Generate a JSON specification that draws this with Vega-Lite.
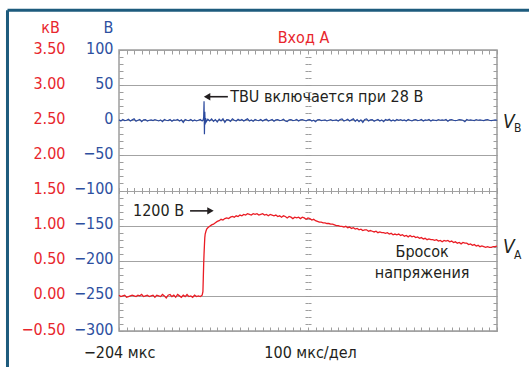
{
  "$schema": "https://vega.github.io/schema/vega-lite/v6.json",
  "width": 378,
  "height": 281,
  "autosize": {"type": "none"},
  "padding": {"left": 119, "top": 50, "right": 32, "bottom": 36},
  "background": "white",
  "config": {
    "font": "DejaVu Sans Condensed",
    "view": {"stroke": "#9d9d9d", "strokeWidth": 1.5},
    "axis": {"tickColor": "#9d9d9d", "tickWidth": 1, "titleFontWeight": "normal", "labelFontSize": 16, "titleFontSize": 16, "domain": false}
  },
  "datasets": {
    "blue": [
      {"t":-204,"v":0.5},{"t":-199,"v":-1},{"t":-194,"v":1},{"t":-189,"v":-0.5},{"t":-184,"v":0},{"t":-179,"v":1.5},{"t":-174,"v":-1},{"t":-169,"v":0.5},{"t":-164,"v":2},{"t":-159,"v":-1.5},
      {"t":-154,"v":0},{"t":-149,"v":1},{"t":-144,"v":-2},{"t":-139,"v":0.5},{"t":-134,"v":1},{"t":-129,"v":-1},{"t":-124,"v":0},{"t":-119,"v":0.5},{"t":-114,"v":-0.5},{"t":-109,"v":1},
      {"t":-104,"v":0},{"t":-99,"v":-1},{"t":-94,"v":0.5},{"t":-89,"v":-2},{"t":-84,"v":1},{"t":-79,"v":0},{"t":-74,"v":-0.5},{"t":-69,"v":1},{"t":-64,"v":-1.5},{"t":-59,"v":0.5},
      {"t":-54,"v":0},{"t":-49,"v":1},{"t":-44,"v":-1},{"t":-39,"v":0.5},{"t":-34,"v":-3},{"t":-29,"v":1},{"t":-24,"v":0},{"t":-19,"v":-0.5},{"t":-14,"v":1},{"t":-9,"v":-1},
      {"t":-4,"v":0.5},{"t":1,"v":-1},{"t":6,"v":0},{"t":11,"v":1},{"t":16,"v":-1},{"t":19,"v":1},{"t":20,"v":5},{"t":21,"v":27},{"t":22,"v":-20},{"t":23,"v":12},
      {"t":24,"v":-6},{"t":25,"v":3},{"t":27,"v":-2},{"t":31,"v":1.5},{"t":36,"v":-1},{"t":41,"v":2},{"t":46,"v":-1.5},{"t":51,"v":1},{"t":56,"v":-2.5},{"t":61,"v":1.5},
      {"t":66,"v":-1},{"t":71,"v":2},{"t":76,"v":-3},{"t":81,"v":1},{"t":86,"v":0.5},{"t":91,"v":-1.5},{"t":96,"v":2},{"t":101,"v":0},{"t":106,"v":-1},{"t":111,"v":1.5},
      {"t":116,"v":-0.5},{"t":121,"v":1},{"t":126,"v":-1},{"t":131,"v":0.5},{"t":136,"v":2},{"t":141,"v":-1},{"t":146,"v":0.5},{"t":151,"v":-1.5},{"t":156,"v":1},{"t":161,"v":0},
      {"t":166,"v":-0.5},{"t":171,"v":1},{"t":176,"v":-1},{"t":181,"v":0.5},{"t":186,"v":1.5},{"t":191,"v":-1},{"t":196,"v":0},{"t":201,"v":1},{"t":206,"v":-1.5},{"t":211,"v":0.5},
      {"t":216,"v":1},{"t":221,"v":-0.5},{"t":226,"v":0},{"t":231,"v":1.5},{"t":236,"v":-1},{"t":241,"v":-2},{"t":246,"v":0.5},{"t":251,"v":1},{"t":256,"v":-0.5},{"t":261,"v":0},
      {"t":266,"v":1},{"t":271,"v":-1},{"t":276,"v":0.5},{"t":281,"v":1},{"t":286,"v":0},{"t":291,"v":-1},{"t":296,"v":0.5},{"t":301,"v":1},{"t":306,"v":-1},{"t":311,"v":0},
      {"t":316,"v":-2},{"t":321,"v":0.5},{"t":326,"v":1},{"t":331,"v":-0.5},{"t":336,"v":0},{"t":341,"v":0.5},{"t":346,"v":-1},{"t":351,"v":0},{"t":356,"v":1},{"t":361,"v":-0.5},
      {"t":366,"v":0},{"t":371,"v":0.5},{"t":376,"v":-1},{"t":381,"v":1},{"t":386,"v":2},{"t":391,"v":-1},{"t":396,"v":0},{"t":401,"v":1.5},{"t":406,"v":-1},{"t":411,"v":0.5},
      {"t":416,"v":2},{"t":421,"v":-1.5},{"t":426,"v":1},{"t":431,"v":-2},{"t":436,"v":0.5},{"t":441,"v":-3},{"t":446,"v":1},{"t":451,"v":2},{"t":456,"v":-1},{"t":461,"v":0.5},
      {"t":466,"v":1},{"t":471,"v":-1.5},{"t":476,"v":0},{"t":481,"v":1},{"t":486,"v":-1},{"t":491,"v":0.5},{"t":496,"v":-2},{"t":501,"v":1},{"t":506,"v":0},{"t":511,"v":1.5},
      {"t":516,"v":-1},{"t":521,"v":0.5},{"t":526,"v":-1},{"t":531,"v":1},{"t":536,"v":0},{"t":541,"v":1},{"t":546,"v":-0.5},{"t":551,"v":0.5},{"t":556,"v":-1},{"t":561,"v":1},
      {"t":566,"v":0},{"t":571,"v":-1},{"t":576,"v":0.5},{"t":581,"v":1},{"t":586,"v":-0.5},{"t":591,"v":0},{"t":596,"v":1},{"t":601,"v":-1},{"t":606,"v":0.5},{"t":611,"v":0},
      {"t":616,"v":1},{"t":621,"v":-1},{"t":626,"v":0.5},{"t":631,"v":0},{"t":636,"v":-0.5},{"t":641,"v":1},{"t":646,"v":0},{"t":651,"v":0.5},{"t":656,"v":0},{"t":661,"v":1},
      {"t":666,"v":-1.5},{"t":671,"v":0.5},{"t":676,"v":1},{"t":681,"v":0},{"t":686,"v":-0.5},{"t":691,"v":0},{"t":696,"v":1},{"t":701,"v":0.5},{"t":706,"v":0},{"t":711,"v":-2},
      {"t":716,"v":1},{"t":721,"v":0},{"t":726,"v":0.5},{"t":731,"v":0},{"t":736,"v":-0.5},{"t":741,"v":1},{"t":746,"v":0},{"t":751,"v":0.5},{"t":756,"v":0},{"t":761,"v":-0.5},
      {"t":766,"v":0.5},{"t":771,"v":1},{"t":776,"v":0},{"t":781,"v":-0.5},{"t":786,"v":0},{"t":791,"v":0.5},{"t":796,"v":0}
    ],
    "red": [
      {"t":-204,"kv":0.01},{"t":-199,"kv":-0.01},{"t":-194,"kv":0.0},{"t":-189,"kv":0.01},{"t":-184,"kv":-0.02},{"t":-179,"kv":-0.01},{"t":-174,"kv":0.0},{"t":-169,"kv":0.01},{"t":-164,"kv":0.0},{"t":-159,"kv":-0.01},
      {"t":-154,"kv":0.01},{"t":-149,"kv":0.0},{"t":-144,"kv":0.02},{"t":-139,"kv":-0.01},{"t":-134,"kv":0.0},{"t":-129,"kv":0.01},{"t":-124,"kv":-0.01},{"t":-119,"kv":0.0},{"t":-114,"kv":0.01},{"t":-109,"kv":-0.02},
      {"t":-104,"kv":0.01},{"t":-99,"kv":0.0},{"t":-94,"kv":-0.01},{"t":-89,"kv":0.02},{"t":-84,"kv":0.0},{"t":-79,"kv":-0.03},{"t":-74,"kv":0.01},{"t":-69,"kv":0.02},{"t":-64,"kv":-0.01},{"t":-59,"kv":0.01},
      {"t":-54,"kv":-0.02},{"t":-49,"kv":0.02},{"t":-44,"kv":0.0},{"t":-39,"kv":-0.02},{"t":-34,"kv":0.01},{"t":-29,"kv":-0.01},{"t":-24,"kv":0.02},{"t":-19,"kv":-0.01},{"t":-14,"kv":0.0},{"t":-9,"kv":-0.02},
      {"t":-4,"kv":0.01},{"t":1,"kv":-0.01},{"t":6,"kv":0.0},{"t":11,"kv":-0.01},{"t":16,"kv":0.01},
      {"t":18,"kv":0.06},{"t":19,"kv":0.25},{"t":20,"kv":0.45},{"t":21,"kv":0.6},{"t":22,"kv":0.72},{"t":23,"kv":0.83},{"t":24,"kv":0.88},{"t":26,"kv":0.92},{"t":28,"kv":0.95},{"t":31,"kv":0.97},{"t":36,"kv":0.99},
      {"t":41,"kv":1.01},{"t":46,"kv":1.02},{"t":51,"kv":1.04},{"t":56,"kv":1.06},{"t":61,"kv":1.07},{"t":66,"kv":1.09},{"t":71,"kv":1.08},{"t":76,"kv":1.10},{"t":81,"kv":1.11},{"t":86,"kv":1.10},
      {"t":91,"kv":1.12},{"t":96,"kv":1.13},{"t":101,"kv":1.12},{"t":106,"kv":1.14},{"t":111,"kv":1.13},{"t":116,"kv":1.15},{"t":121,"kv":1.14},{"t":126,"kv":1.16},{"t":131,"kv":1.15},{"t":136,"kv":1.17},
      {"t":141,"kv":1.16},{"t":146,"kv":1.15},{"t":151,"kv":1.17},{"t":156,"kv":1.16},{"t":161,"kv":1.17},{"t":166,"kv":1.15},{"t":171,"kv":1.16},{"t":176,"kv":1.17},{"t":181,"kv":1.15},{"t":186,"kv":1.16},
      {"t":191,"kv":1.14},{"t":196,"kv":1.16},{"t":201,"kv":1.15},{"t":206,"kv":1.14},{"t":211,"kv":1.15},{"t":216,"kv":1.13},{"t":221,"kv":1.14},{"t":226,"kv":1.12},{"t":231,"kv":1.14},{"t":236,"kv":1.13},
      {"t":241,"kv":1.11},{"t":246,"kv":1.13},{"t":251,"kv":1.12},{"t":256,"kv":1.10},{"t":261,"kv":1.12},{"t":266,"kv":1.11},{"t":271,"kv":1.12},{"t":276,"kv":1.10},{"t":281,"kv":1.12},{"t":286,"kv":1.11},
      {"t":291,"kv":1.09},{"t":296,"kv":1.11},{"t":301,"kv":1.10},{"t":306,"kv":1.08},{"t":311,"kv":1.09},{"t":316,"kv":1.07},{"t":321,"kv":1.06},{"t":326,"kv":1.05},{"t":331,"kv":1.05},{"t":336,"kv":1.04},
      {"t":341,"kv":1.04},{"t":346,"kv":1.03},{"t":351,"kv":1.03},{"t":356,"kv":1.02},{"t":361,"kv":1.02},{"t":366,"kv":1.01},{"t":371,"kv":1.00},{"t":376,"kv":1.00},{"t":381,"kv":0.99},{"t":386,"kv":0.99},
      {"t":391,"kv":0.98},{"t":396,"kv":0.99},{"t":401,"kv":0.97},{"t":406,"kv":0.98},{"t":411,"kv":0.96},{"t":416,"kv":0.97},{"t":421,"kv":0.95},{"t":426,"kv":0.96},{"t":431,"kv":0.94},{"t":436,"kv":0.95},
      {"t":441,"kv":0.93},{"t":446,"kv":0.94},{"t":451,"kv":0.94},{"t":456,"kv":0.92},{"t":461,"kv":0.93},{"t":466,"kv":0.92},{"t":471,"kv":0.91},{"t":476,"kv":0.92},{"t":481,"kv":0.90},{"t":486,"kv":0.91},
      {"t":491,"kv":0.90},{"t":496,"kv":0.90},{"t":501,"kv":0.89},{"t":506,"kv":0.90},{"t":511,"kv":0.88},{"t":516,"kv":0.89},{"t":521,"kv":0.87},{"t":526,"kv":0.88},{"t":531,"kv":0.87},{"t":536,"kv":0.88},
      {"t":541,"kv":0.86},{"t":546,"kv":0.87},{"t":551,"kv":0.85},{"t":556,"kv":0.86},{"t":561,"kv":0.84},{"t":566,"kv":0.86},{"t":571,"kv":0.84},{"t":576,"kv":0.85},{"t":581,"kv":0.83},{"t":586,"kv":0.84},
      {"t":591,"kv":0.82},{"t":596,"kv":0.83},{"t":601,"kv":0.81},{"t":606,"kv":0.82},{"t":611,"kv":0.80},{"t":616,"kv":0.81},{"t":621,"kv":0.80},{"t":626,"kv":0.80},{"t":631,"kv":0.79},{"t":636,"kv":0.80},
      {"t":641,"kv":0.78},{"t":646,"kv":0.79},{"t":651,"kv":0.77},{"t":656,"kv":0.79},{"t":661,"kv":0.78},{"t":666,"kv":0.79},{"t":671,"kv":0.77},{"t":676,"kv":0.78},{"t":681,"kv":0.76},{"t":686,"kv":0.77},
      {"t":691,"kv":0.75},{"t":696,"kv":0.76},{"t":701,"kv":0.74},{"t":706,"kv":0.76},{"t":711,"kv":0.75},{"t":716,"kv":0.75},{"t":721,"kv":0.73},{"t":726,"kv":0.74},{"t":731,"kv":0.72},{"t":736,"kv":0.73},
      {"t":741,"kv":0.71},{"t":746,"kv":0.72},{"t":751,"kv":0.70},{"t":756,"kv":0.71},{"t":761,"kv":0.70},{"t":766,"kv":0.69},{"t":771,"kv":0.70},{"t":776,"kv":0.69},{"t":781,"kv":0.69},{"t":786,"kv":0.70},
      {"t":791,"kv":0.70},{"t":796,"kv":0.71}
    ],
    "notes": [
      {"t":90,"v":33.5,"text":"TBU включается при 28 В","group":"left"},
      {"t":-167,"v":-129,"text":"1200 В","group":"left"},
      {"t":598,"v":-187.5,"text":"Бросок","group":"center"},
      {"t":598,"v":-217.5,"text":"напряжения","group":"center"}
    ],
    "arrows": [
      {"t1":30,"t2":84,"v":33.5,"head":"left","th":29},
      {"t1":-16,"t2":38,"v":-129,"head":"right","th":38}
    ],
    "vnames": [
      {"t":812,"v":-3,"main":"V","sub":"B","vs":-11},
      {"t":812,"v":-180,"main":"V","sub":"A","vs":-192}
    ]
  },
  "resolve": {"scale": {"x": "independent", "y": "independent"}},
  "layer": [
    {
      "data": {"name": "blue"},
      "mark": {"type": "line", "color": "#2c4a9e", "strokeWidth": 1.2, "interpolate": "linear"},
      "encoding": {
        "x": {"field": "t", "type": "quantitative", "scale": {"domain": [-204, 796], "nice": false, "zero": false},
          "axis": {"orient": "bottom", "values": [-204], "ticks": false, "grid": false,
            "labelExpr": "datum.value == -204 ? '−204 мкс' : ''", "labelColor": "#231f20", "labelAlign": "center", "labelDx": -7, "labelPadding": 21, "labelBaseline": "middle",
            "title": "100 мкс/дел", "titleColor": "#231f20", "titleX": 191, "titleY": 21, "titleBaseline": "middle", "titleAlign": "center"}},
        "y": {"field": "v", "type": "quantitative", "scale": {"domain": [-300, 100], "nice": false, "zero": false},
          "axis": {"orient": "left", "values": [-300, -250, -200, -150, -100, -50, 0, 50, 100], "ticks": false, "grid": true, "gridColor": "#a3a3a3", "gridWidth": 1.2,
            "labelColor": "#2d4fa0", "labelPadding": 6, "labelBaseline": "middle", "labelOffset": -2,
            "title": "В", "titleColor": "#2d4fa0", "titleAngle": 0, "titleX": -11, "titleY": -23, "titleAlign": "center", "titleBaseline": "middle"}}
      }
    },
    {
      "data": {"name": "red"},
      "mark": {"type": "line", "color": "#ea1c24", "strokeWidth": 1.3},
      "encoding": {
        "x": {"field": "t", "type": "quantitative", "scale": {"domain": [-204, 796], "nice": false, "zero": false},
          "axis": {"orient": "top", "values": [-204,-184,-164,-144,-124,-104,-84,-64,-44,-24,-4,16,36,56,76,96,116,136,156,176,196,216,236,256,276,296,316,336,356,376,396,416,436,456,476,496,516,536,556,576,596,616,636,656,676,696,716,736,756,776,796],
            "tickSize": -4, "labels": false, "grid": false,
            "title": "Вход А", "titleColor": "#e8262d", "titleX": 184, "titleY": -13, "titleAlign": "center", "titleBaseline": "middle"}},
        "y": {"field": "kv", "type": "quantitative", "scale": {"domain": [-0.5, 3.5], "nice": false, "zero": false},
          "axis": {"orient": "left", "values": [-0.5, 0, 0.5, 1, 1.5, 2, 2.5, 3, 3.5], "format": ".2f", "ticks": false, "grid": false,
            "labelColor": "#e8262d", "labelPadding": 54, "labelBaseline": "middle", "labelOffset": -2,
            "title": "кВ", "titleColor": "#e8262d", "titleAngle": 0, "titleX": -69, "titleY": -23, "titleAlign": "center", "titleBaseline": "middle"}}
      }
    },
    {
      "data": {"name": "notes"},
      "transform": [{"filter": "datum.group == 'left'"}],
      "mark": {"type": "text", "fontSize": 16, "color": "#231f20", "baseline": "middle", "align": "left"},
      "encoding": {
        "x": {"field": "t", "type": "quantitative", "scale": {"domain": [-204, 796], "nice": false, "zero": false},
          "axis": {"orient": "bottom", "values": [-204,-184,-164,-144,-124,-104,-84,-64,-44,-24,-4,16,36,56,76,96,116,136,156,176,196,216,236,256,276,296,316,336,356,376,396,416,436,456,476,496,516,536,556,576,596,616,636,656,676,696,716,736,756,776,796],
            "tickSize": -4, "labels": false, "grid": false, "title": null}},
        "y": {"field": "v", "type": "quantitative", "scale": {"domain": [-300, 100], "nice": false, "zero": false},
          "axis": {"orient": "right", "values": [-300,-290,-280,-270,-260,-250,-240,-230,-220,-210,-200,-190,-180,-170,-160,-150,-140,-130,-120,-110,-100,-90,-80,-70,-60,-50,-40,-30,-20,-10,0,10,20,30,40,50,60,70,80,90,100],
            "tickSize": -4, "labels": false, "grid": false, "title": null}},
        "text": {"field": "text"}
      }
    },
    {
      "data": {"name": "notes"},
      "transform": [{"filter": "datum.group == 'center'"}],
      "mark": {"type": "text", "fontSize": 16, "color": "#231f20", "baseline": "middle", "align": "center"},
      "encoding": {
        "x": {"field": "t", "type": "quantitative", "scale": {"domain": [-204, 796], "nice": false, "zero": false}, "axis": null},
        "y": {"field": "v", "type": "quantitative", "scale": {"domain": [-300, 100], "nice": false, "zero": false}, "axis": null},
        "text": {"field": "text"}
      }
    },
    {
      "data": {"name": "arrows"},
      "mark": {"type": "rule", "color": "#231f20", "strokeWidth": 1.6},
      "encoding": {
        "x": {"field": "t1", "type": "quantitative", "scale": {"domain": [-204, 796], "nice": false, "zero": false},
          "axis": {"orient": "top", "offset": -140.5, "values": [-204,-184,-164,-144,-124,-104,-84,-64,-44,-24,-4,16,36,56,76,96,116,136,156,176,196,216,236,256,276,296,316,336,356,376,396,416,436,456,476,496,516,536,556,576,596,616,636,656,676,696,716,736,756,776,796],
            "tickSize": 3, "labels": false, "grid": false, "title": null}},
        "x2": {"field": "t2"},
        "y": {"field": "v", "type": "quantitative", "scale": {"domain": [-300, 100], "nice": false, "zero": false},
          "axis": {"orient": "left", "values": [-300,-290,-280,-270,-260,-250,-240,-230,-220,-210,-200,-190,-180,-170,-160,-150,-140,-130,-120,-110,-100,-90,-80,-70,-60,-50,-40,-30,-20,-10,0,10,20,30,40,50,60,70,80,90,100],
            "tickSize": -4, "labels": false, "grid": false, "title": null}}
      }
    },
    {
      "data": {"name": "arrows"},
      "mark": {"type": "point", "filled": true, "color": "#231f20", "size": 55, "opacity": 1},
      "encoding": {
        "x": {"field": "th", "type": "quantitative", "scale": {"domain": [-204, 796], "nice": false, "zero": false},
          "axis": {"orient": "top", "offset": -140.5, "values": [-204,-184,-164,-144,-124,-104,-84,-64,-44,-24,-4,16,36,56,76,96,116,136,156,176,196,216,236,256,276,296,316,336,356,376,396,416,436,456,476,496,516,536,556,576,596,616,636,656,676,696,716,736,756,776,796],
            "tickSize": -3, "labels": false, "grid": false, "title": null}},
        "y": {"field": "v", "type": "quantitative", "scale": {"domain": [-300, 100], "nice": false, "zero": false},
          "axis": {"orient": "left", "offset": -189, "values": [-300,-290,-280,-270,-260,-250,-240,-230,-220,-210,-200,-190,-180,-170,-160,-150,-140,-130,-120,-110,-100,-90,-80,-70,-60,-50,-40,-30,-20,-10,0,10,20,30,40,50,60,70,80,90,100],
            "tickSize": 3, "labels": false, "grid": false, "title": null}},
        "shape": {"field": "head", "type": "nominal", "scale": {"domain": ["left", "right"], "range": ["triangle-left", "triangle-right"]}, "legend": null}
      }
    },
    {
      "data": {"name": "vnames"},
      "mark": {"type": "text", "fontSize": 19, "fontStyle": "italic", "color": "#231f20", "align": "left", "baseline": "middle"},
      "encoding": {
        "x": {"field": "t", "type": "quantitative", "scale": {"domain": [-204, 796], "nice": false, "zero": false}, "axis": null},
        "y": {"field": "v", "type": "quantitative", "scale": {"domain": [-300, 100], "nice": false, "zero": false},
          "axis": {"orient": "left", "offset": -189, "values": [-300,-290,-280,-270,-260,-250,-240,-230,-220,-210,-200,-190,-180,-170,-160,-150,-140,-130,-120,-110,-100,-90,-80,-70,-60,-50,-40,-30,-20,-10,0,10,20,30,40,50,60,70,80,90,100],
            "tickSize": -3, "labels": false, "grid": false, "title": null}},
        "text": {"field": "main"}
      }
    },
    {
      "data": {"name": "vnames"},
      "mark": {"type": "text", "fontSize": 12, "color": "#231f20", "align": "left", "baseline": "middle", "dx": 11},
      "encoding": {
        "x": {"field": "t", "type": "quantitative", "scale": {"domain": [-204, 796], "nice": false, "zero": false}, "axis": null},
        "y": {"field": "vs", "type": "quantitative", "scale": {"domain": [-300, 100], "nice": false, "zero": false}, "axis": null},
        "text": {"field": "sub"}
      }
    },
    {
      "data": {"values": [{}]},
      "mark": {"type": "rule", "color": "#1d5b7d", "strokeWidth": 3},
      "encoding": {
        "x": {"datum": -499, "type": "quantitative", "scale": {"domain": [-204, 796], "nice": false, "zero": false}, "axis": null},
        "x2": {"datum": 950},
        "y": {"datum": 156.5, "type": "quantitative", "scale": {"domain": [-300, 100], "nice": false, "zero": false}, "axis": null}
      }
    },
    {
      "data": {"values": [{}]},
      "mark": {"type": "rule", "color": "#1d5b7d", "strokeWidth": 3},
      "encoding": {
        "x": {"datum": -499, "type": "quantitative", "scale": {"domain": [-204, 796], "nice": false, "zero": false}, "axis": null},
        "y": {"datum": -380, "type": "quantitative", "scale": {"domain": [-300, 100], "nice": false, "zero": false}, "axis": null},
        "y2": {"datum": 156.5}
      }
    }
  ]
}
